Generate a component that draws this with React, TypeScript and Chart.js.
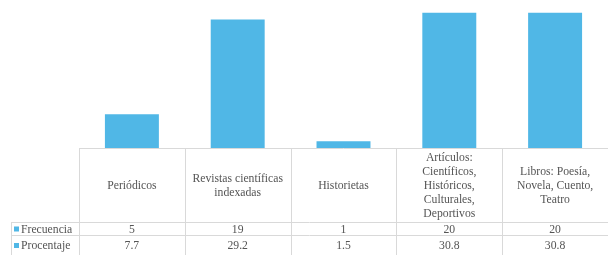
import React, { useEffect, useRef } from "react";
import { Chart, registerables } from "chart.js";

Chart.register(...registerables);

const categories: string[][] = [
  ["Periódicos"],
  ["Revistas científicas", "indexadas"],
  ["Historietas"],
  ["Artículos:", "Científicos,", "Históricos,", "Culturales,", "Deportivos"],
  ["Libros: Poesía,", "Novela, Cuento,", "Teatro"],
];
const frecuencia = [5, 19, 1, 20, 20];
const porcentajeLabels = ["7.7", "29.2", "1.5", "30.8", "30.8"];
const seriesNames = ["Frecuencia", "Procentaje"];

const BAR_COLOR = "#50B7E6";
const LINE_COLOR = "#D9D9D9";
const TEXT_COLOR = "#555555";
const FONT = "11.7px 'Liberation Serif', 'Times New Roman', serif";

const tablePlugin = {
  id: "dataTable",
  afterDraw(chart: any) {
    const ctx = chart.ctx as CanvasRenderingContext2D;
    const area = chart.chartArea;
    const xs = chart.scales.x;
    const n = categories.length;
    const colW = (area.right - area.left) / n;
    const top = area.bottom;
    const headerBottom = top + 74;
    const row1Bottom = headerBottom + 13;
    const H = chart.height;
    const legendLeft = 11;
    ctx.save();
    ctx.strokeStyle = LINE_COLOR;
    ctx.lineWidth = 1;
    const hline = (x1: number, x2: number, y: number) => {
      ctx.beginPath();
      ctx.moveTo(x1, Math.round(y) + 0.5);
      ctx.lineTo(x2, Math.round(y) + 0.5);
      ctx.stroke();
    };
    const vline = (x: number, y1: number, y2: number) => {
      ctx.beginPath();
      ctx.moveTo(Math.round(x) + 0.5, y1);
      ctx.lineTo(Math.round(x) + 0.5, y2);
      ctx.stroke();
    };
    hline(area.left, area.right, top);
    hline(legendLeft, area.right, headerBottom);
    hline(legendLeft, area.right, row1Bottom);
    for (let i = 0; i <= n; i++) {
      vline(area.left + i * colW, top, H);
    }
    vline(legendLeft, headerBottom, H);

    ctx.fillStyle = TEXT_COLOR;
    ctx.font = FONT;
    ctx.textAlign = "center";
    ctx.textBaseline = "middle";
    const lh = 14;
    const rowsY = [(headerBottom + row1Bottom) / 2 + 1, row1Bottom + 11];
    categories.forEach((lines, i) => {
      const cx = xs.getPixelForValue(i);
      const midY = (top + headerBottom) / 2 + 1;
      const startY = midY - ((lines.length - 1) * lh) / 2;
      lines.forEach((ln, j) => ctx.fillText(ln, cx, startY + j * lh));
      ctx.fillText(String(frecuencia[i]), cx, rowsY[0]);
      ctx.fillText(porcentajeLabels[i], cx, rowsY[1]);
    });
    ctx.textAlign = "left";
    seriesNames.forEach((name, k) => {
      ctx.fillStyle = BAR_COLOR;
      ctx.fillRect(14, rowsY[k] - 3, 5, 5);
      ctx.fillStyle = TEXT_COLOR;
      ctx.fillText(name, 21, rowsY[k]);
    });
    ctx.restore();
  },
};

export default function App() {
  const ref = useRef<HTMLCanvasElement | null>(null);
  useEffect(() => {
    document.body.style.margin = "0";
    const chart = new Chart(ref.current!, {
      type: "bar",
      data: {
        labels: categories.map((c) => c.join(" ")),
        datasets: [
          {
            label: seriesNames[0],
            data: frecuencia,
            backgroundColor: BAR_COLOR,
            borderWidth: 0,
            categoryPercentage: 1,
            barPercentage: 0.51,
          },
        ],
      },
      options: {
        animation: false,
        responsive: false,
        maintainAspectRatio: false,
        layout: { padding: { left: 79, right: 0, top: 0, bottom: 107 } },
        plugins: { legend: { display: false }, tooltip: { enabled: false } },
        scales: {
          x: { display: false, offset: true },
          y: { display: false, min: 0, max: 21.9 },
        },
      },
      plugins: [tablePlugin],
    });
    return () => chart.destroy();
  }, []);
  return <canvas ref={ref} width={608} height={255} style={{ display: "block" }} />;
}
